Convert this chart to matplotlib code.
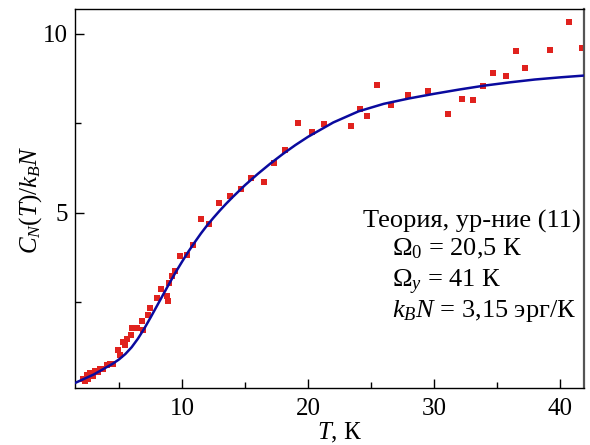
import matplotlib
matplotlib.use("Agg")
import matplotlib.pyplot as plt
from matplotlib.ticker import MultipleLocator

plt.rcParams["font.family"] = ["Liberation Serif", "DejaVu Serif"]
plt.rcParams["mathtext.fontset"] = "custom"
plt.rcParams["mathtext.rm"] = "Liberation Serif"
plt.rcParams["mathtext.it"] = "Liberation Serif:italic"

# measured heat capacity, T in K
t_exp = [2.17, 2.3, 2.43, 2.56, 2.7, 2.9, 3.1, 3.3, 3.49, 3.76, 4.02, 4.29,
         4.55, 4.94, 5.08, 5.29, 5.48, 5.61, 5.95, 6.06, 6.4, 6.8, 6.93,
         7.27, 7.46, 7.99, 8.33, 8.78, 8.86, 8.99, 9.18, 9.44, 9.84, 10.37,
         10.9, 11.5, 12.1, 12.9, 13.8, 14.7, 15.5, 16.5, 17.3, 18.2, 19.2,
         20.3, 21.3, 23.4, 24.1, 24.7, 25.5, 26.6, 27.9, 29.5, 31.1, 32.2,
         33.1, 33.9, 34.7, 35.7, 36.5, 37.2, 39.2, 40.7, 41.7]
c_exp = [0.34, 0.29, 0.47, 0.35, 0.52, 0.45, 0.57, 0.55, 0.64, 0.62, 0.75, 0.77,
         0.76, 1.15, 1.01, 1.39, 1.29, 1.48, 1.59, 1.78, 1.78, 1.96, 1.73,
         2.13, 2.34, 2.62, 2.88, 2.66, 2.52, 3.04, 3.22, 3.38, 3.78, 3.82,
         4.1, 4.81, 4.69, 5.26, 5.46, 5.67, 5.98, 5.87, 6.38, 6.76, 7.5,
         7.26, 7.47, 7.41, 7.9, 7.71, 8.58, 8.02, 8.29, 8.4, 7.77, 8.18,
         8.15, 8.55, 8.91, 8.83, 9.52, 9.05, 9.54, 10.34, 9.61]

# theory curve, eq. (11)
t_th = [1.5, 2, 2.5, 3, 3.5, 4, 4.5, 5, 5.5, 6, 6.5, 7, 7.5, 8, 8.5, 9,
        9.5, 10, 10.5, 11, 11.5, 12, 12.5, 13, 13.5, 14, 15, 16, 17, 18,
        19, 20, 22, 24, 26, 28, 30, 32, 34, 36, 38, 40, 41.9]
c_th = [0.24, 0.32, 0.40, 0.48, 0.58, 0.68, 0.78, 0.90, 1.05, 1.24, 1.48,
        1.76, 2.07, 2.39, 2.71, 3.03, 3.34, 3.63, 3.91, 4.17, 4.42, 4.65,
        4.86, 5.06, 5.25, 5.43, 5.77, 6.08, 6.37, 6.64, 6.89, 7.12, 7.52,
        7.83, 8.04, 8.19, 8.32, 8.44, 8.55, 8.64, 8.72, 8.78, 8.83]

fig = plt.figure(figsize=(5.9, 4.45), dpi=100)
ax = fig.add_axes([0.127, 0.128, 0.863, 0.851])

ax.plot(t_exp, c_exp, "s", color="#e0221e", markersize=4.6, markeredgewidth=0, zorder=2)
ax.plot(t_th, c_th, "-", color="#0a0a9e", linewidth=1.8, zorder=3)

ax.set_xlim(1.5, 41.9)
ax.set_ylim(0.1, 10.68)
ax.xaxis.set_major_locator(MultipleLocator(10))
ax.xaxis.set_minor_locator(MultipleLocator(5))
ax.yaxis.set_major_locator(MultipleLocator(5))
ax.yaxis.set_minor_locator(MultipleLocator(2.5))
ax.set_yticks([5, 10])
ax.tick_params(which="both", direction="in", labelsize=18, width=1.0)
ax.tick_params(which="major", length=6.5)
ax.tick_params(which="minor", length=4.5)
ax.tick_params(axis="x", which="major", pad=7)
ax.tick_params(axis="y", which="major", pad=5)
for s in ax.spines.values():
    s.set_linewidth(1.0)
ax.spines["right"].set_color("#555555")
ax.spines["right"].set_linewidth(1.6)

fig.text(31 / 590, 1 - 200 / 445, r"$C_N(T)/k_BN$", rotation=90,
         ha="center", va="center", fontsize=18)
fig.text(340 / 590, 1 - 433 / 445, r"$T$, К", ha="center", va="center", fontsize=18)

fs = 19
ax.text(0.566, 0.425, "Теория, ур-ние (11)", transform=ax.transAxes,
        fontsize=fs, va="baseline")
ax.text(0.623, 0.349, r"$\Omega_0$ = 20,5 К", transform=ax.transAxes,
        fontsize=fs, va="baseline")
ax.text(0.623, 0.267, r"$\Omega_y$ = 41 К", transform=ax.transAxes,
        fontsize=fs, va="baseline")
ax.text(0.623, 0.188, r"$k_BN$ = 3,15 эрг/К", transform=ax.transAxes,
        fontsize=fs, va="baseline")

fig.savefig("out.png", dpi=100)
